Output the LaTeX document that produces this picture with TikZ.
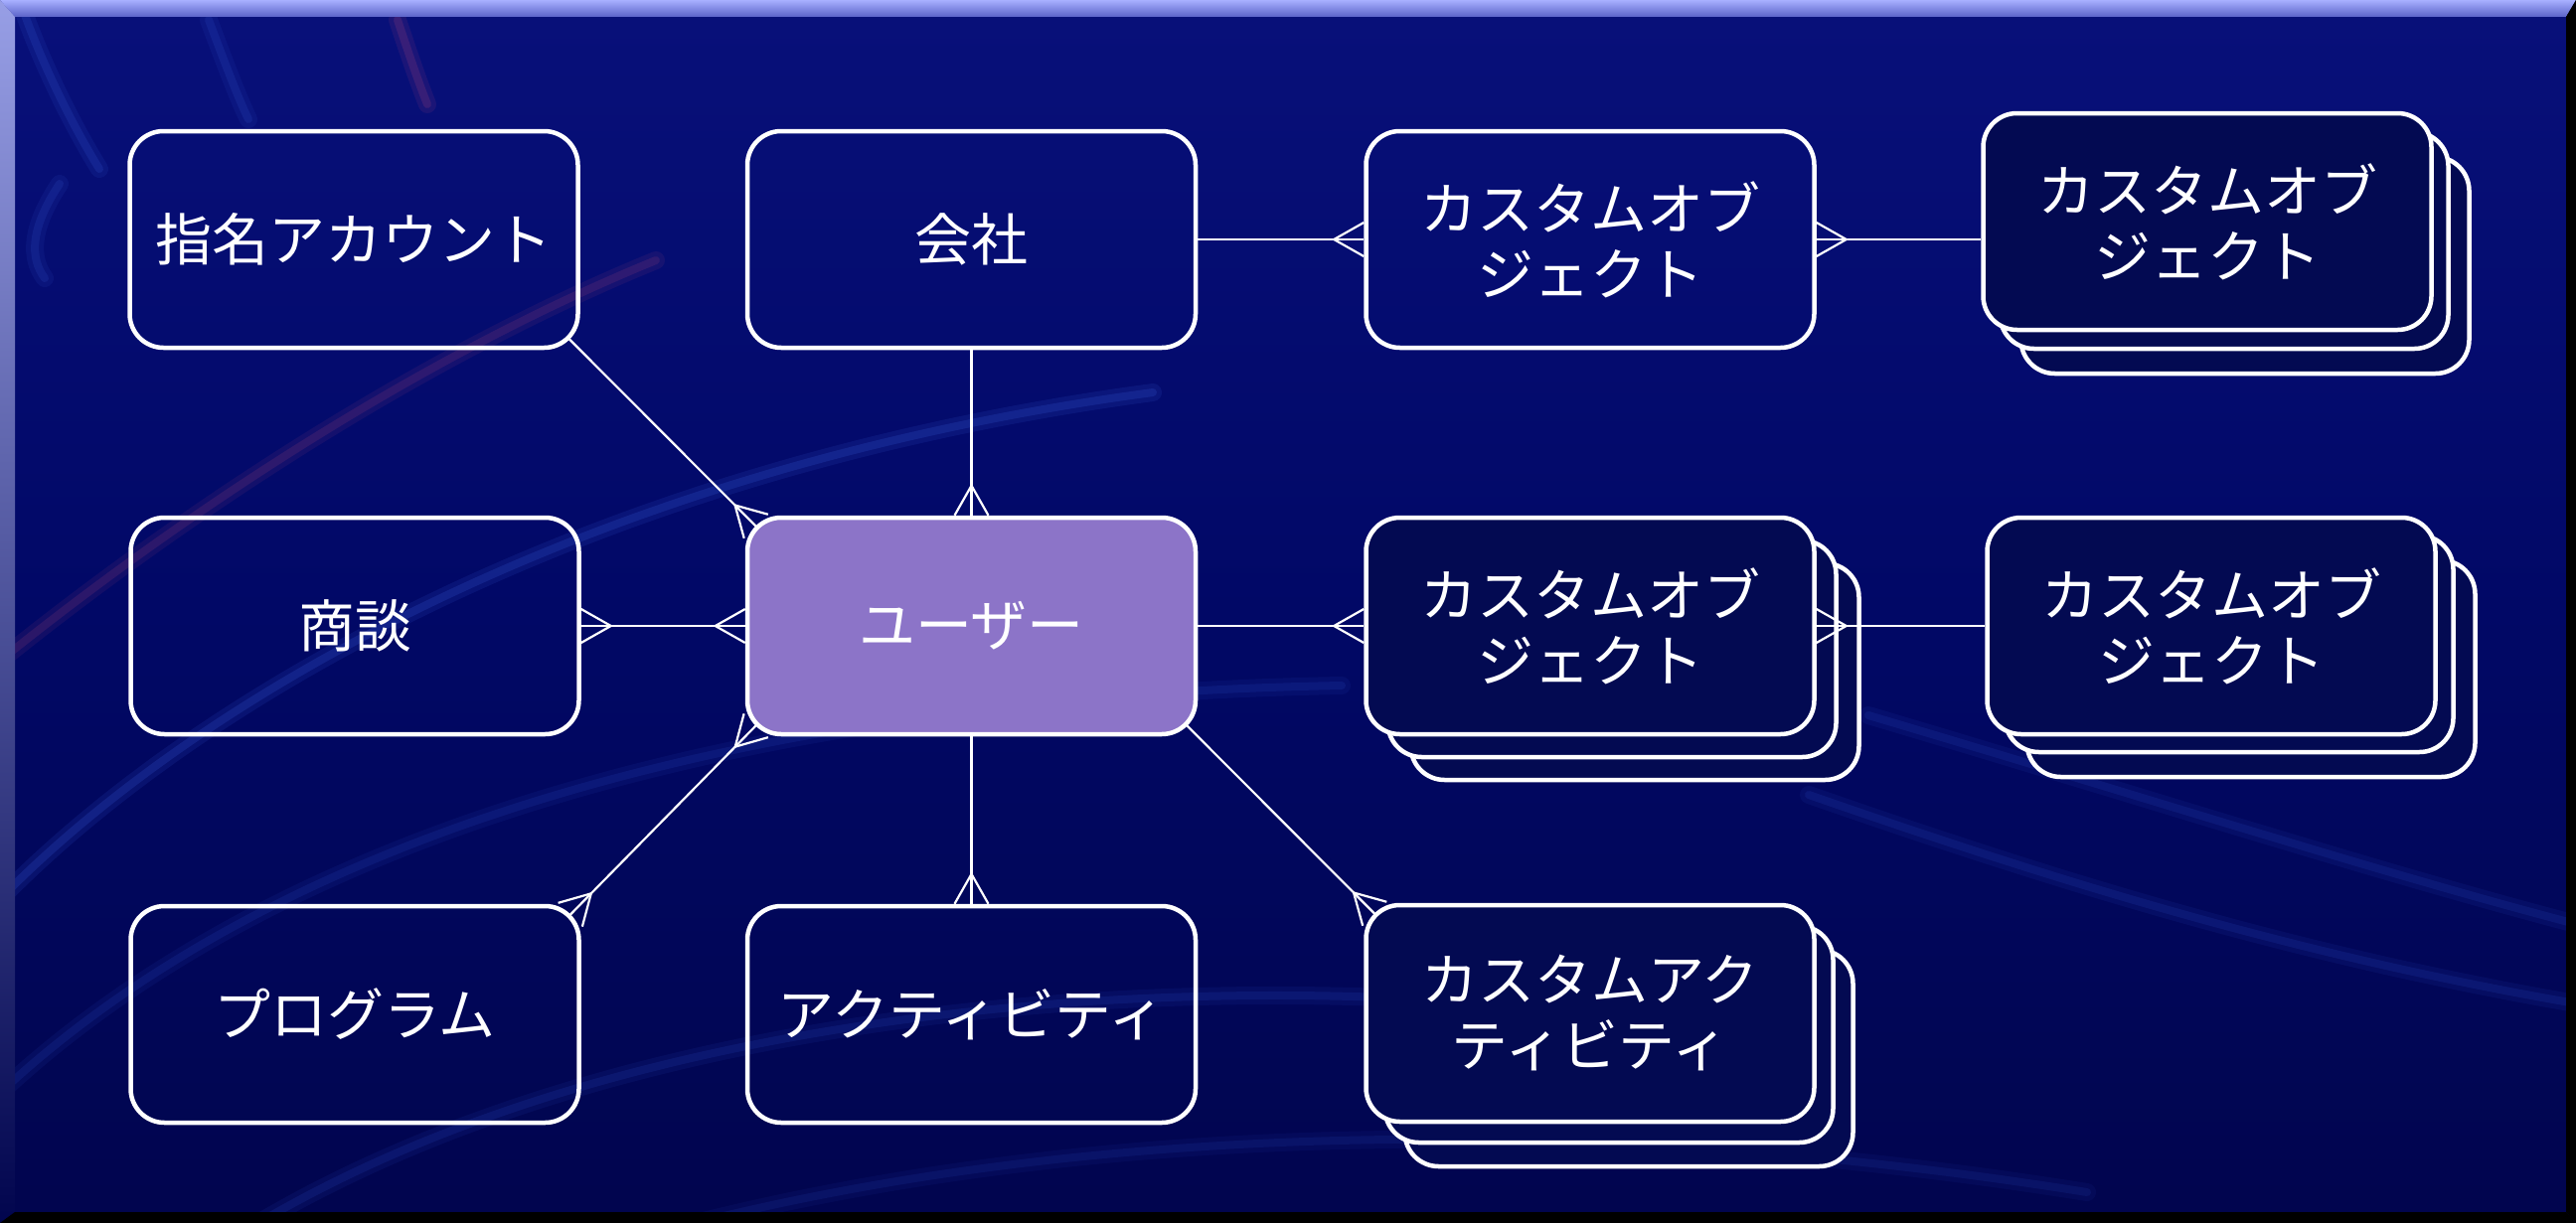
\documentclass[tikz,border=0pt]{standalone}
\usepackage{fontspec}
\newfontfamily\jpfont{Noto Sans CJK JP}
\usetikzlibrary{arrows.meta,calc}
\definecolor{boxfill}{HTML}{030A52}
\definecolor{userfill}{HTML}{8C74C8}
\definecolor{bgtop}{HTML}{08107A}
\definecolor{bgmid}{HTML}{010866}
\definecolor{bgbot}{HTML}{01054E}
\definecolor{streakblue}{HTML}{3050C8}
\definecolor{streakpink}{HTML}{B04878}
\definecolor{framelight}{HTML}{A8B0FF}
\definecolor{framemid}{HTML}{5A62C8}

\pgfdeclarearrow{
  name = Crow,
  parameters = {\the\pgfarrowlength,\the\pgfarrowwidth},
  setup code = {
    \pgfarrowssettipend{0pt}
    \pgfarrowssetlineend{0pt}
    \pgfarrowssetbackend{-\pgfarrowlength}
    \pgfarrowssetvisualbackend{-\pgfarrowlength}
    \pgfarrowsupperhullpoint{0pt}{.5\pgfarrowwidth}
    \pgfarrowsupperhullpoint{-\pgfarrowlength}{0pt}
    \pgfarrowssavethe\pgfarrowlength
    \pgfarrowssavethe\pgfarrowwidth
  },
  drawing code = {
    \pgfsetroundjoin
    \pgfsetbuttcap
    \pgfpathmoveto{\pgfqpoint{0pt}{.5\pgfarrowwidth}}
    \pgfpathlineto{\pgfqpoint{-\pgfarrowlength}{0pt}}
    \pgfpathlineto{\pgfqpoint{0pt}{-.5\pgfarrowwidth}}
    \pgfusepathqstroke
  },
  defaults = {length = 30pt, width = 34pt}
}

\tikzset{
  ent/.style={draw=white, line width=4.5pt, rounded corners=34pt,
    minimum width=451pt, minimum height=218pt, inner sep=0pt,
    text=white, align=center, font=\jpfont\fontsize{57}{66}\selectfont},
  solo/.style={ent},
  stackbox/.style={ent, fill=boxfill},
  userbox/.style={ent, fill=userfill},
  conn/.style={draw=white, line width=2.2pt},
  streak/.style={line width=#1, line cap=round},
}

\begin{document}
\begin{tikzpicture}[x=1pt,y=-1pt]
\useasboundingbox (0,0) rectangle (2592,1231);

% background
\shade[top color=bgtop, bottom color=bgbot, middle color=bgmid] (0,0) rectangle (2592,1231);

% faint streaks (soft: wide faint stroke under a narrower one)
\begin{scope}
\clip (0,0) rectangle (2592,1231);
\foreach \w/\o in {18pt/.10, 8pt/.16}{
\draw[streak=\w, streakpink, opacity=\o] (0,665) .. controls (180,520) and (420,360) .. (660,262);
\draw[streak=\w, streakblue, opacity=\o*1.6] (0,905) .. controls (200,700) and (600,470) .. (1160,395);
\draw[streak=\w, streakblue, opacity=\o] (0,1100) .. controls (300,820) and (800,700) .. (1350,690);
\draw[streak=\w, streakblue, opacity=\o] (260,1231) .. controls (600,1030) and (1100,980) .. (1500,1010);
\draw[streak=\w, streakblue, opacity=\o*.8] (700,1231) .. controls (1100,1130) and (1600,1120) .. (2100,1200);
\draw[streak=\w, streakblue, opacity=\o*1.4] (25,15) .. controls (45,70) and (75,130) .. (100,170);
\draw[streak=\w, streakblue, opacity=\o*1.2] (210,20) .. controls (225,60) and (240,100) .. (250,120);
\draw[streak=\w, streakpink, opacity=\o*1.2] (400,20) .. controls (410,50) and (420,80) .. (430,105);
\draw[streak=\w, streakblue, opacity=\o*1.2] (60,185) .. controls (30,230) and (30,260) .. (45,280);
\draw[streak=\w, streakblue, opacity=\o] (1820,800) .. controls (2050,880) and (2300,960) .. (2592,1010);
\draw[streak=\w, streakblue, opacity=\o] (1880,720) .. controls (2150,800) and (2400,880) .. (2592,930);
}
\end{scope}

% frame bevel
\shade[top color=framelight, bottom color=framemid] (0,0) -- (2592,0) -- (2582,17) -- (15,17) -- cycle;
\shade[top color=framelight!90!black, bottom color=bgbot] (0,0) -- (15,17) -- (15,1220) -- (0,1231) -- cycle;
\fill[black] (2592,0) -- (2592,1231) -- (2582,1220) -- (2582,17) -- cycle;
\fill[black] (0,1231) -- (2592,1231) -- (2582,1220) -- (15,1220) -- cycle;

% row 1
\node[solo] (acct) at (356,241) {指名アカウント};
\node[solo] (co) at (977.5,241) {会社};
\node[solo] (cobA) at (1600,241) {カスタムオブ\\ジェクト};
\node[stackbox] (cobB3) at (2259,267) {};
\node[stackbox] (cobB2) at (2238,242) {};
\node[stackbox] (cobB) at (2221,223) {カスタムオブ\\ジェクト};

% row 2
\node[solo] (deal) at (357,630) {商談};
\node[userbox] (usr) at (977.5,630) {ユーザー};
\node[stackbox] (cobC3) at (1645,676) {};
\node[stackbox] (cobC2) at (1622,653) {};
\node[stackbox] (cobC) at (1600,630) {カスタムオブ\\ジェクト};
\node[stackbox] (cobD3) at (2265,673) {};
\node[stackbox] (cobD2) at (2243,648) {};
\node[stackbox] (cobD) at (2225,630) {カスタムオブ\\ジェクト};

% row 3
\node[solo] (prog) at (357,1021) {プログラム};
\node[solo] (act) at (977.5,1021) {アクティビティ};
\node[stackbox] (cact3) at (1639,1065) {};
\node[stackbox] (cact2) at (1619,1041) {};
\node[stackbox] (cact) at (1600,1020) {カスタムアク\\ティビティ};

% connectors
\draw[conn, -{Crow}] ($(acct.south east)+(-11,-11)$) -- ($(usr.north west)+(11,11)$);
\draw[conn, -{Crow}] (co.south) -- (usr.north);
\draw[conn, -{Crow}] (co.east) -- (cobA.west);
\draw[conn, {Crow}-] (cobA.east) -- (cobA.east -| cobB.west);
\draw[conn, {Crow}-{Crow}] (deal.east) -- (usr.west);
\draw[conn, -{Crow}] (usr.east) -- (cobC.west);
\draw[conn, {Crow}-] (cobC.east) -- (cobD.west);
\draw[conn, {Crow}-{Crow}] ($(usr.south west)+(11,-11)$) -- ($(prog.north east)+(-11,11)$);
\draw[conn, -{Crow}] (usr.south) -- (act.north);
\draw[conn, -{Crow}] ($(usr.south east)+(-11,-11)$) -- ($(cact.north west)+(11,11)$);
\end{tikzpicture}
\end{document}
